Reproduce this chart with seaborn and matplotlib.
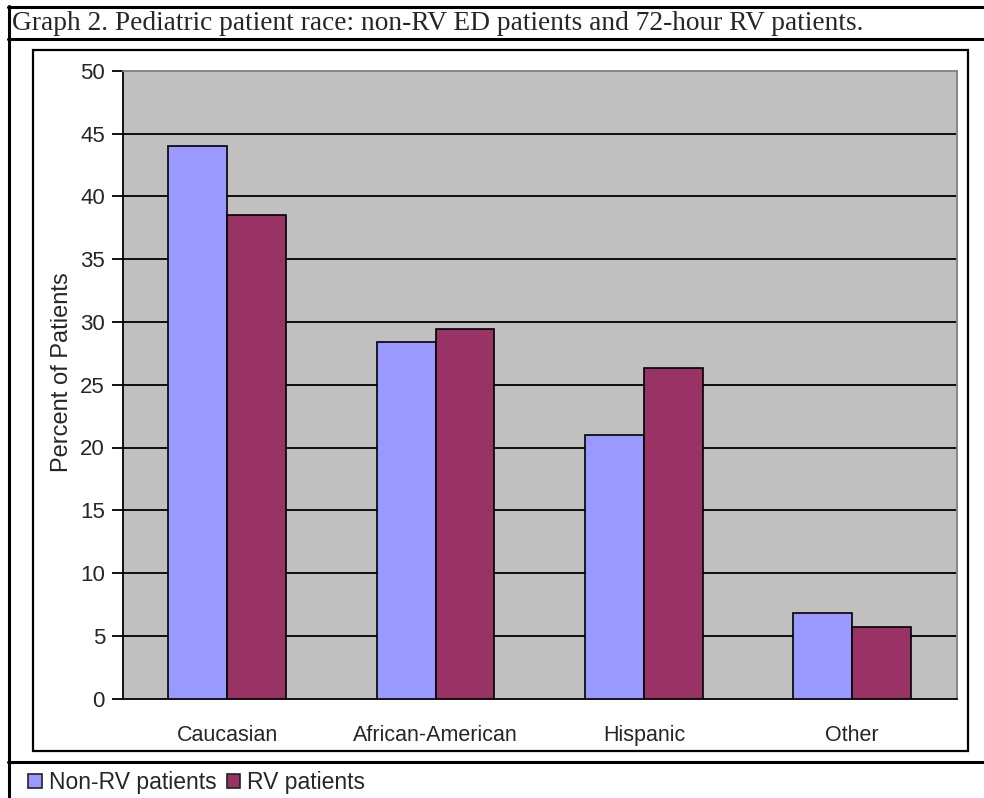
import matplotlib
matplotlib.use("Agg")
import matplotlib.pyplot as plt
from matplotlib.lines import Line2D
from matplotlib.patches import Rectangle, Patch
import seaborn as sns
import pandas as pd

# Percent of pediatric patients by race
categories = ["Caucasian", "African-American", "Hispanic", "Other"]
non_rv = [44.0, 28.4, 21.0, 6.85]
rv = [38.5, 29.45, 26.3, 5.7]
series_names = ["Non-RV patients", "RV patients"]
y_ticks = [0, 5, 10, 15, 20, 25, 30, 35, 40, 45, 50]

title = "Graph 2. Pediatric patient race: non-RV ED patients and 72-hour RV patients."
y_label = "Percent of Patients"

colors = {"Non-RV patients": "#9999FF", "RV patients": "#993366"}

df = pd.DataFrame({
    "Race": categories * 2,
    "Percent": non_rv + rv,
    "Group": [series_names[0]] * len(categories) + [series_names[1]] * len(categories),
})

sns.set_style("white")
plt.rcParams["font.family"] = ["Liberation Sans", "DejaVu Sans"]

W, H = 984, 798
fig = plt.figure(figsize=(W / 100, H / 100), dpi=100)


def fx(px):
    return px / W


def fy(py):
    return 1 - py / H


# plot area
ax_l, ax_r, ax_t, ax_b = 123, 956.5, 70.7, 698.7
ax = fig.add_axes([fx(ax_l), fy(ax_b), fx(ax_r) - fx(ax_l), fy(ax_t) - fy(ax_b)])
ax.set_facecolor("#C0C0C0")

sns.barplot(data=df, x="Race", y="Percent", hue="Group", order=categories,
            hue_order=series_names, palette=colors, width=0.565, gap=0,
            edgecolor="black", linewidth=1.2, saturation=1, legend=False,
            ax=ax, zorder=3)

ax.set_ylim(0, 50)
ax.set_xlim(-0.5, len(categories) - 0.5)
ax.set_yticks(y_ticks)
ax.set_yticklabels([str(t) for t in y_ticks], fontsize=16)
for t in y_ticks[1:-1]:
    ax.axhline(t, color="black", linewidth=1.3, zorder=1)

ax.set_xticks(range(len(categories)))
ax.set_xticklabels(categories, fontsize=15.5)
ax.set_xticks([i - 0.5 for i in range(len(categories) + 1)], minor=True)
ax.tick_params(axis="x", which="major", length=0, pad=19)
ax.tick_params(axis="x", which="minor", direction="out", length=7, width=1.3, color="black")
ax.tick_params(axis="y", direction="out", length=8, width=1.3, color="black", pad=5, left=True)

ax.set_xlabel("")
ax.set_ylabel(y_label, fontsize=17)
ax.yaxis.set_label_coords((61.7 - ax_l) / (ax_r - ax_l), (ax_b - 371.7) / (ax_b - ax_t))
ax.yaxis.label.set_verticalalignment("center")

for side in ("left", "bottom"):
    ax.spines[side].set_color("black")
    ax.spines[side].set_linewidth(1.3)
for side in ("top", "right"):
    ax.spines[side].set_color("#808080")
    ax.spines[side].set_linewidth(1.3)

# page frame and chart box
frame_kw = dict(transform=fig.transFigure, color="black", linewidth=2.2, zorder=10)
fig.lines.append(Line2D([fx(8.5), fx(8.5)], [fy(6), fy(798)], **frame_kw))
fig.lines.append(Line2D([fx(7.5), 1], [fy(7), fy(7)], **frame_kw))
fig.lines.append(Line2D([fx(7.5), 1], [fy(39), fy(39)], **frame_kw))
fig.lines.append(Line2D([fx(7.5), 1], [fy(762), fy(762)], **frame_kw))
fig.patches.append(Rectangle((fx(33.3), fy(751)), fx(967.7) - fx(33.3), fy(50) - fy(751),
                             transform=fig.transFigure, fill=False, edgecolor="black",
                             linewidth=1.6, zorder=10))

fig.text(fx(12), fy(23), title, family=["Liberation Serif", "DejaVu Serif"],
         fontsize=19.7, ha="left", va="center")

handles = [Patch(facecolor=colors[n], edgecolor="#222222", linewidth=1.2) for n in series_names]
fig.legend(handles, series_names, loc="center left", bbox_to_anchor=(fx(28), fy(782.5)),
           ncol=2, frameon=False, fontsize=16.5, handlelength=0.6, handleheight=0.6,
           handletextpad=0.3, columnspacing=0.45, borderpad=0, borderaxespad=0)

fig.savefig("out.png", dpi=100)
